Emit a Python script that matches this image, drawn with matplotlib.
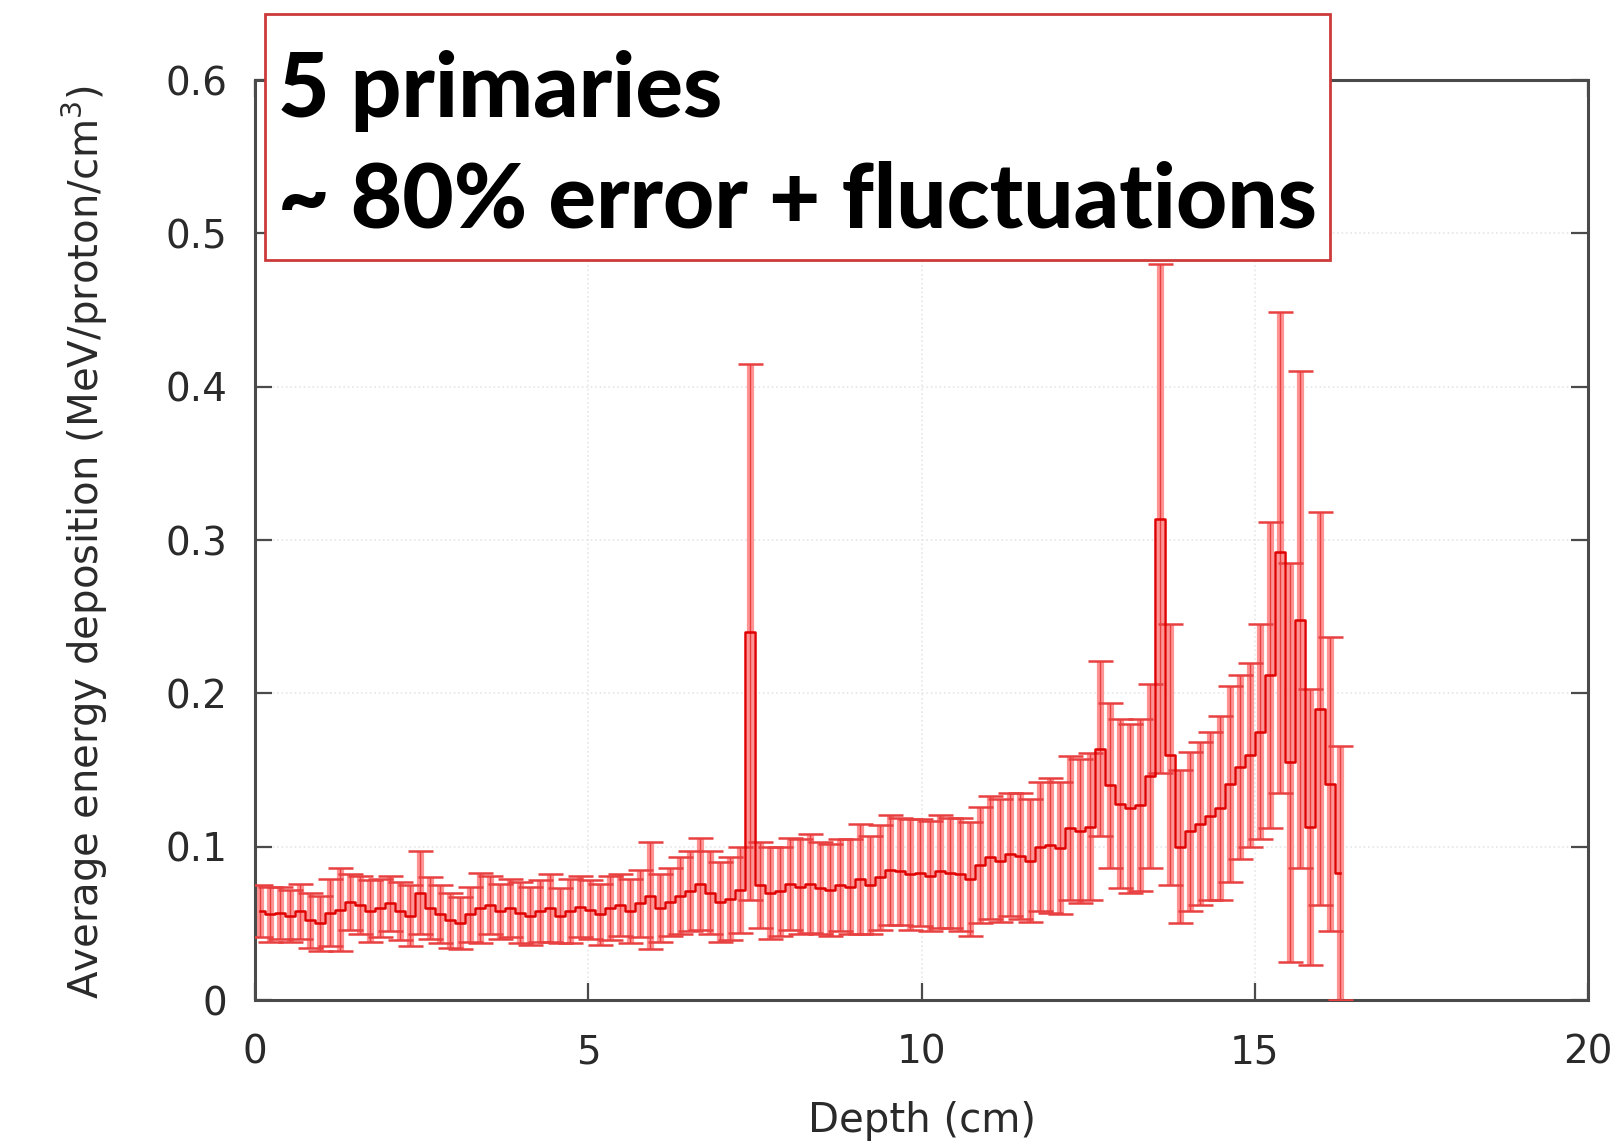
import numpy as np
import matplotlib
matplotlib.use('Agg')
import matplotlib.pyplot as plt
from matplotlib.patches import Rectangle

# ---- data ----
bin_width = 0.15  # cm
mean = [0.058, 0.056, 0.057, 0.055, 0.058, 0.052, 0.050, 0.057, 0.059, 0.064,
        0.062, 0.058, 0.060, 0.063, 0.058, 0.055, 0.070, 0.060, 0.056, 0.052,
        0.050, 0.056, 0.060, 0.062, 0.058, 0.060, 0.057, 0.055, 0.058, 0.060,
        0.055, 0.058, 0.061, 0.059, 0.056, 0.060, 0.062, 0.058, 0.063, 0.068,
        0.060, 0.064, 0.068, 0.071, 0.076, 0.070, 0.064, 0.066, 0.072, 0.240,
        0.075, 0.070, 0.071, 0.076, 0.074, 0.076, 0.073, 0.072, 0.075, 0.074,
        0.079, 0.075, 0.080, 0.085, 0.084, 0.082, 0.083, 0.081, 0.084, 0.083,
        0.082, 0.079, 0.088, 0.093, 0.091, 0.095, 0.094, 0.091, 0.100, 0.101,
        0.099, 0.112, 0.110, 0.113, 0.164, 0.140, 0.128, 0.125, 0.127, 0.146,
        0.314, 0.160, 0.100, 0.110, 0.115, 0.120, 0.125, 0.141, 0.152, 0.160,
        0.175, 0.212, 0.292, 0.155, 0.248, 0.113, 0.190, 0.141, 0.083]
err = [0.017, 0.018, 0.017, 0.017, 0.018, 0.018, 0.018, 0.022, 0.027, 0.018,
       0.019, 0.020, 0.019, 0.018, 0.019, 0.020, 0.027, 0.020, 0.019, 0.018,
       0.017, 0.018, 0.023, 0.019, 0.018, 0.019, 0.020, 0.019, 0.020, 0.022,
       0.018, 0.021, 0.020, 0.019, 0.020, 0.021, 0.020, 0.021, 0.022, 0.035,
       0.022, 0.022, 0.025, 0.026, 0.030, 0.027, 0.026, 0.027, 0.028, 0.175,
       0.028, 0.030, 0.029, 0.030, 0.031, 0.032, 0.030, 0.030, 0.030, 0.031,
       0.036, 0.032, 0.034, 0.036, 0.035, 0.036, 0.035, 0.036, 0.037, 0.036,
       0.037, 0.037, 0.038, 0.040, 0.040, 0.040, 0.041, 0.040, 0.042, 0.044,
       0.043, 0.047, 0.047, 0.048, 0.057, 0.054, 0.055, 0.055, 0.056, 0.060,
       0.166, 0.085, 0.050, 0.052, 0.053, 0.055, 0.060, 0.064, 0.060, 0.060,
       0.070, 0.100, 0.157, 0.130, 0.162, 0.090, 0.128, 0.096, 0.083]
depth = np.arange(len(mean)) * bin_width + bin_width / 2

xticks = [0, 5, 10, 15, 20]
yticks = [0, 0.1, 0.2, 0.3, 0.4, 0.5, 0.6]
ytick_labels = ['0', '0.1', '0.2', '0.3', '0.4', '0.5', '0.6']

line1 = '5 primaries'
line2 = '~ 80% error + fluctuations'

# ---- figure ----
fig = plt.figure(figsize=(16.17, 11.45), dpi=100)
ax = fig.add_axes([0.1577, 0.1266, 0.8244, 0.8035])

frame = '#4a4a4a'
for s in ax.spines.values():
    s.set_color(frame)
    s.set_linewidth(2.2)

ax.grid(True, color='#e6e6e6', linestyle=':', linewidth=1.2)
ax.set_axisbelow(True)

# error bars: broad pink body + thin red core with caps
ax.errorbar(depth, mean, yerr=err, fmt='none', ecolor='#ff9494',
            elinewidth=5.2, capsize=0, zorder=2)
ax.errorbar(depth, mean, yerr=err, fmt='none', ecolor='#e84040',
            elinewidth=1.0, capsize=9, capthick=1.8, zorder=3)
ax.plot(depth, mean, drawstyle='steps-mid', color='#e00000', lw=1.8, zorder=4)

ax.set_xlim(0, 20)
ax.set_ylim(0, 0.6)
ax.set_xticks(xticks)
ax.set_xticklabels([str(t) for t in xticks])
ax.set_yticks(yticks)
ax.set_yticklabels(ytick_labels)
ax.tick_params(axis='both', direction='in', length=12, width=1.6, color=frame,
               labelsize=28, labelcolor='#2a2a2a', top=True, right=True)
ax.tick_params(axis='y', pad=20)
ax.tick_params(axis='x', pad=24)

ax.set_xlabel('Depth (cm)', fontsize=29, color='#2a2a2a', va='center')
ax.xaxis.set_label_coords(0.5, -0.1315)
ax.set_ylabel('Average energy deposition (MeV/proton/cm$^3$)', fontsize=29,
              color='#2a2a2a', va='center')
ax.yaxis.set_label_coords(-0.1275, 0.498)

# ---- annotation box ----
box = Rectangle((0.1639, 0.7729), 0.6587, 0.2149, transform=fig.transFigure,
                facecolor='white', edgecolor='#cc3a3a', linewidth=2.0, zorder=5)
fig.add_artist(box)

fam = ['Lato', 'DejaVu Sans']
t1 = fig.text(0.172, 0.8978, line1, fontsize=55, fontweight='black',
              family=fam, va='baseline', ha='left', color='black', zorder=6)
t2 = fig.text(0.172, 0.8017, line2, fontsize=55, fontweight='black',
              family=fam, va='baseline', ha='left', color='black', zorder=6)

# scale font so second line spans the same width as in the reference
fig.canvas.draw()
r = fig.canvas.get_renderer()
w = t2.get_window_extent(r).width
target = 1037.0
fs = 55 * target / w
t1.set_fontsize(fs)
t2.set_fontsize(fs)

fig.savefig('out.png', dpi=100, facecolor='white')
